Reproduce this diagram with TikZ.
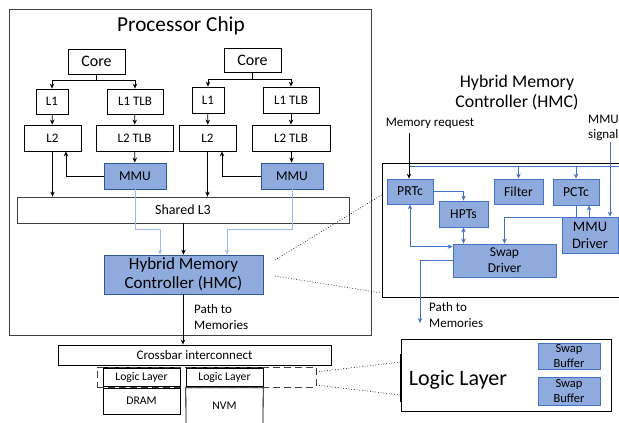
\documentclass[tikz,border=0pt]{standalone}
\usepackage{fontspec}
\setmainfont{Carlito}
\usetikzlibrary{fit,arrows.meta,calc}
\definecolor{bfill}{HTML}{8FAADC}
\definecolor{bdark}{HTML}{2F5597}
\definecolor{bmid}{HTML}{4472C4}
\definecolor{blight}{HTML}{9DBBE8}
\definecolor{frame}{HTML}{404040}
% \mybox{name}{style}{x1}{y1}{x2}{y2}{text}
\newcommand\mybox[7]{\node[#2,minimum width={(#5-#3)*1pt},minimum height={(#6-#4)*1pt}] (#1) at ({(#3+#5)/2},{(#4+#6)/2}) {#7};}
\begin{document}
\begin{tikzpicture}[x=1pt,y=-1pt,
  box/.style={draw=black,line width=0.8pt,inner sep=0pt,align=center},
  bbox/.style={draw=bdark,fill=bfill,line width=0.8pt,inner sep=0pt,align=center},
  dbox/.style={draw=bmid,fill=bfill,line width=0.8pt,inner sep=0pt,align=center},
  arr/.style={-{Stealth[length=5pt,width=4.5pt]},line width=0.8pt,black},
  larr/.style={-{Stealth[length=5pt,width=4.5pt]},line width=1pt,blight},
  barr/.style={-{Stealth[length=5pt,width=4.5pt]},line width=0.8pt,bmid},
  bdarr/.style={{Stealth[length=5pt,width=4.5pt]}-{Stealth[length=5pt,width=4.5pt]},line width=0.8pt,bmid},
  dotl/.style={dotted,line width=0.7pt,black},
  txt/.style={inner sep=0pt,align=left}]
\useasboundingbox (0,0) rectangle (619,423);
% processor chip frame
\node[draw=frame,line width=0.9pt,inner sep=0pt,fit={(9,9)(371,335)}] (chip) {};
\node[txt,font=\fontsize{21.3}{23}\selectfont] (chipt) at (181,26) {Processor Chip};
% left core
\mybox{core1}{box,font=\fontsize{16}{18}\selectfont}{68}{49}{125}{74}{Core}
\mybox{l1a}{box,font=\fontsize{13}{15}\selectfont}{36}{89}{68}{114}{L1}
\mybox{l1ta}{box,font=\fontsize{13}{15}\selectfont}{107}{89}{163}{114}{L1 TLB}
\mybox{l2a}{box,font=\fontsize{13}{15}\selectfont}{24}{125}{81}{151}{L2}
\mybox{l2ta}{box,font=\fontsize{13}{15}\selectfont}{96}{125}{173}{151}{L2 TLB}
\mybox{mmua}{bbox,font=\fontsize{13.5}{15}\selectfont}{104}{163}{166}{189}{MMU}
% right core
\mybox{core2}{box,font=\fontsize{16}{18}\selectfont}{224}{48}{281}{72}{Core}
\mybox{l1b}{box,font=\fontsize{13}{15}\selectfont}{192}{87}{224}{113}{L1}
\mybox{l1tb}{box,font=\fontsize{13}{15}\selectfont}{263}{87}{319}{113}{L1 TLB}
\mybox{l2b}{box,font=\fontsize{13}{15}\selectfont}{179}{125}{236}{151}{L2}
\mybox{l2tb}{box,font=\fontsize{13}{15}\selectfont}{252}{125}{330}{151}{L2 TLB}
\mybox{mmub}{bbox,font=\fontsize{13.5}{15}\selectfont}{261}{163}{323}{189}{MMU}
% shared L3 and HMC
\mybox{l3}{box,draw=frame,font=\fontsize{14}{16}\selectfont}{17}{197}{349}{223}{Shared L3}
\mybox{hmc}{bbox,font=\fontsize{17}{19.5}\selectfont}{104}{255}{263}{294}{Hybrid Memory\\Controller (HMC)}
\node[txt,anchor=north west,font=\fontsize{13}{16}\selectfont] (ptm1) at (194,304) {Path to\\Memories};
% connectors left
\coordinate (ba) at (96.5,80);
\draw[line width=0.8pt] (core1.south) -- (ba);
\draw[arr] (ba) -| (l1a.north);
\draw[arr] (ba) -| (l1ta.north);
\draw[arr] (l1a) -- (l2a);
\draw[arr] (l1ta) -- (l2ta);
\draw[arr] (l2ta) -- (mmua);
\draw[arr] (mmua.west) -| ([xshift=13.5pt]l2a.south);
\draw[arr] (l2a.south) -- (l2a.south |- l3.north);
% connectors right
\coordinate (bb) at (252.5,79);
\draw[line width=0.8pt] (core2.south) -- (bb);
\draw[arr] (bb) -| (l1b.north);
\draw[arr] (bb) -| (l1tb.north);
\draw[arr] (l1b) -- (l2b);
\draw[arr] (l1tb) -- (l2tb);
\draw[arr] (l2tb) -- (mmub);
\draw[arr] (mmub.west) -| ([xshift=14.5pt]l2b.south);
\draw[arr] (l2b.south) -- (l2b.south |- l3.north);
% to HMC
\draw[larr] (mmua.south) -- ++(0,40) -| ([xshift=-23.5pt]hmc.north);
\draw[larr] (mmub.south) -- ++(0,40) -| ([xshift=43.5pt]hmc.north);
\draw[arr] (hmc.north |- l3.south) -- (hmc.north);
% memory side
\mybox{xbar}{box,font=\fontsize{13}{15}\selectfont}{58}{345}{331}{365}{Crossbar interconnect}
\draw[arr] ([xshift=-0.5pt]hmc.south) -- ([xshift=-0.5pt]hmc.south |- xbar.north);
\mybox{lla}{box,font=\fontsize{11.7}{13}\selectfont}{103}{368}{180}{386}{Logic Layer}
\mybox{llb}{box,font=\fontsize{11.7}{13}\selectfont}{186}{368}{263}{386}{Logic Layer}
\draw[line width=2pt] (lla.north west) -- (lla.north east);
\draw[line width=2pt] (llb.north west) -- (llb.north east);
\mybox{dram}{box,font=\fontsize{11.7}{13}\selectfont}{103}{388}{180}{414}{DRAM}
\mybox{nvm}{inner sep=0pt,font=\fontsize{11.7}{13}\selectfont}{186}{388}{263}{423}{NVM}
\draw[line width=0.8pt] (186,426) -- (nvm.north west) -- (nvm.north east) -- (263,426);
\node[draw=frame,dash pattern=on 7pt off 4pt,line width=0.8pt,inner sep=0pt,fit={(97,367)(316,387)}] (llgroup) {};
% HMC detail
\node[draw=black,line width=0.8pt,inner sep=0pt,fit={(382,163)(626,297)}] (hd) {};
\node[txt,align=center,font=\fontsize{17.8}{20}\selectfont] (hdt) at (517,93) {Hybrid Memory\\Controller (HMC)};
\node[txt,font=\fontsize{13}{15}\selectfont] (mreq) at (430,123) {Memory request};
\node[txt,anchor=north west,font=\fontsize{13}{15}\selectfont] (msig) at (588,115) {MMU\\signal};
\mybox{prtc}{dbox,font=\fontsize{13.7}{15}\selectfont}{387}{179}{433}{204}{PRTc}
\mybox{filt}{dbox,font=\fontsize{13.7}{15}\selectfont}{494}{179}{543}{204}{Filter}
\mybox{pctc}{dbox,font=\fontsize{13.7}{15}\selectfont}{553}{179}{599}{205}{PCTc}
\mybox{hpts}{dbox,font=\fontsize{13.7}{15}\selectfont}{439}{201}{488}{227}{HPTs}
\mybox{swap}{dbox,font=\fontsize{13.5}{16}\selectfont}{453}{244}{556}{277}{Swap\\Driver}
\mybox{mmud}{dbox,font=\fontsize{14.5}{17}\selectfont}{562}{217}{618}{253}{MMU\\Driver}
\node[txt,anchor=north west,font=\fontsize{13}{16}\selectfont] (ptm2) at (429,302) {Path to\\Memories};
\coordinate (tl) at (409,166);
\coordinate (tr) at (622,166);
\coordinate (sig) at (610,142);
\coordinate (pm) at (420,323);
\draw[line width=0.8pt,bmid] (tl) -- (tr);
\draw[barr] (sig) -- (sig |- mmud.north);
\draw[barr] (filt.north |- tl) -- (filt.north);
\draw[barr] (pctc.north |- tl) -- (pctc.north);
\draw[arr] ([xshift=-1pt]prtc.north |- mreq.south) ++(0,5) -- ([xshift=-1pt]prtc.north);
\draw[barr] (prtc.east) -| (hpts.north);
\draw[bdarr] (hpts.south) -- (hpts.south |- swap.north);
\draw[bdarr] (prtc.south) |- ([yshift=-3pt]swap.north west);
\draw[barr] (pctc.south) -- ++(0,12) -| (swap.north);
\draw[barr] (mmud.north -| 589,0) -- (pctc.south -| 589,0);
\draw[barr] (swap.west) -| (pm);
% logic layer detail
\node[draw=black,line width=0.8pt,inner sep=0pt,fit={(401,339)(611,411)}] (ld) {};
\draw[line width=2pt] (401,354) -- (401,402);
\node[txt,font=\fontsize{22}{24}\selectfont] (ldt) at (458,380) {Logic Layer};
\mybox{sb1}{dbox,font=\fontsize{12.5}{14.5}\selectfont}{538}{343}{600}{369}{Swap\\Buffer}
\mybox{sb2}{dbox,font=\fontsize{12.5}{14.5}\selectfont}{538}{377}{600}{405}{Swap\\Buffer}
% zoom lines
\draw[dotl] (275,260) -- (hd.north west |- 0,195);
\draw[dotl] (275,276) -- (hd.north west |- 0,293);
\draw[dotl] (llgroup.east |- 0,372) -- (ld.west |- 0,362);
\draw[dotl] (llgroup.east |- 0,385) -- (ld.west |- 0,395);
\end{tikzpicture}
\end{document}
